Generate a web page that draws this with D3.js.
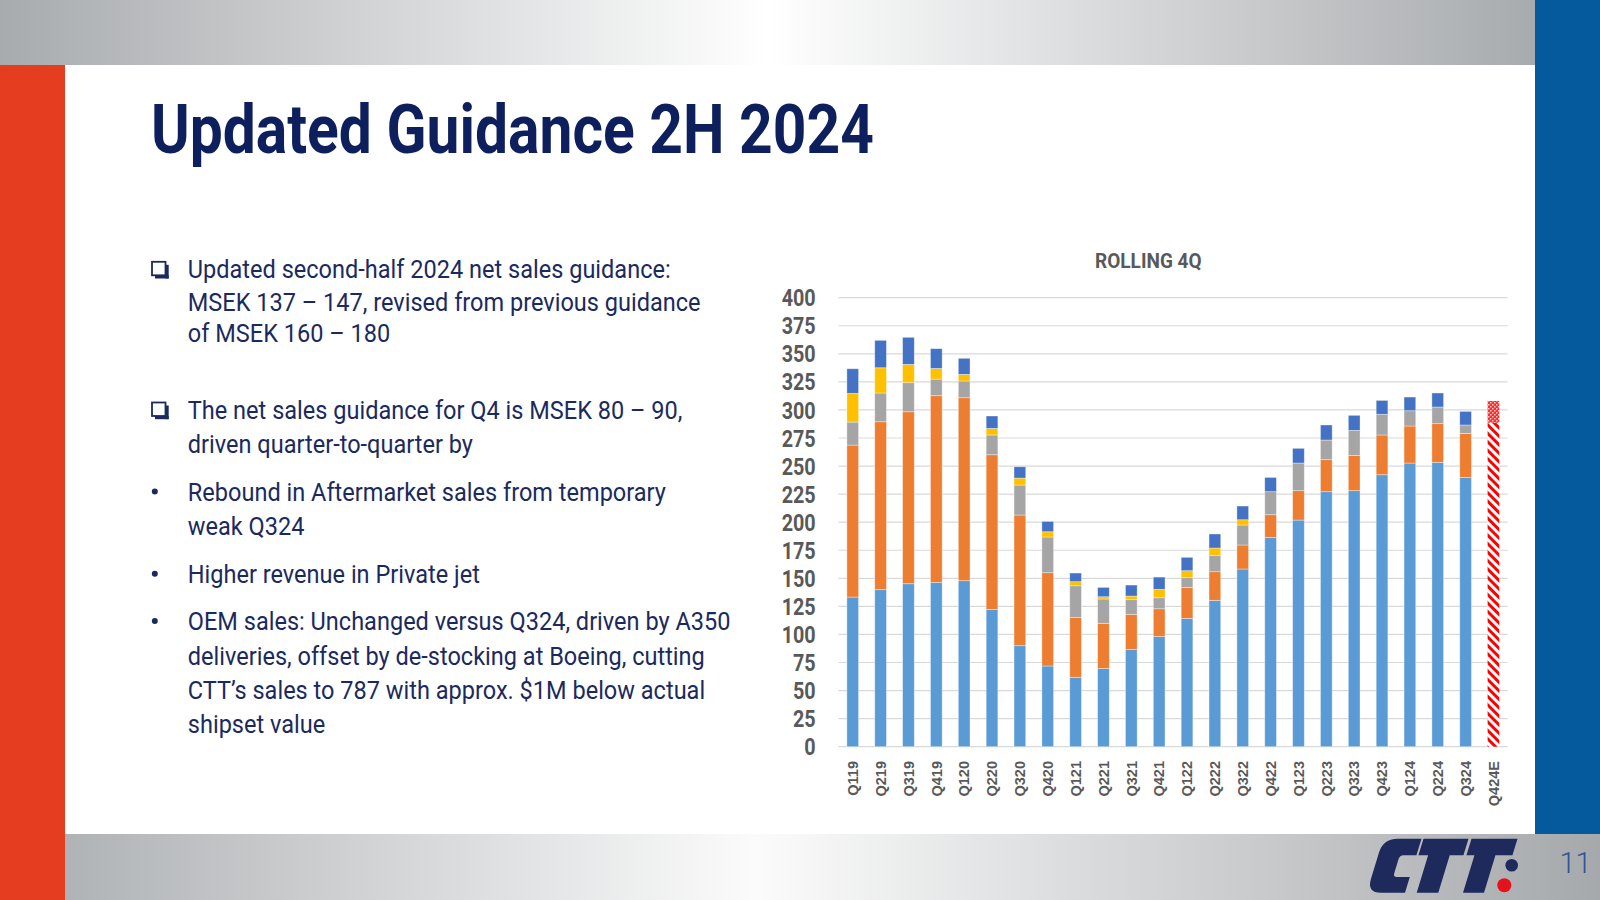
<!DOCTYPE html>
<html>
<head>
<meta charset="utf-8">
<script src="https://cdn.jsdelivr.net/npm/d3@7"></script>
<style>
  html, body { margin: 0; padding: 0; background: #fff; }
  svg { display: block; }
</style>
</head>
<body>
<svg id="slide" width="1600" height="900"></svg>
<script>
// ---------------- DATA ----------------
const categories = ["Q119","Q219","Q319","Q419","Q120","Q220","Q320","Q420","Q121","Q221","Q321","Q421","Q122","Q222","Q322","Q422","Q123","Q223","Q323","Q423","Q124","Q224","Q324"];
const estimateCategory = "Q424E";
const seriesLightBlue = [133.3,139.9,145.2,146.4,147.9,122.3,90.0,71.9,61.8,69.8,86.7,98.3,114.3,130.4,158.3,186.5,201.9,227.2,228.1,242.3,252.7,253.3,239.9];
const seriesOrange    = [135.4,149.6,153.2,166.3,163.0,137.8,116.4,83.1,53.4,40.1,31.2,24.6,27.6,25.5,21.4,20.2,26.2,28.5,31.4,35.4,33.0,34.5,39.2];
const seriesGray      = [20.5,25.6,25.9,14.8,14.9,17.6,26.7,31.8,28.2,21.7,13.1,9.8,8.7,14.6,17.8,20.5,24.6,17.5,22.3,18.4,13.6,14.8,7.5];
const seriesYellow    = [25.6,22.5,16.3,9.5,5.9,5.9,6.2,4.7,3.6,2.0,3.2,7.5,6.2,6.5,4.7,0,0,0,0,0,0,0,0];
const seriesDarkBlue  = [21.9,24.4,24.1,17.6,14.3,11.0,10.1,9.2,7.7,8.3,9.8,10.9,11.9,12.5,12.2,12.7,13.1,13.4,13.4,12.4,12.2,12.5,12.1];
const estimateBase = 288.6;   // hatched part
const estimateTop  = 308.0;   // top of checkered range
const yTicks = [0,25,50,75,100,125,150,175,200,225,250,275,300,325,350,375,400];
const seriesColors = ["#5b9bd5","#ed7d31","#a5a5a5","#ffc000","#4472c4"];

const titleText = "Updated Guidance 2H 2024";
const chartTitle = "ROLLING 4Q";
const pageNumber = "11";
const bodyLines = [
  {t:"Updated second-half 2024 net sales guidance:", y:278.3, mark:"box"},
  {t:"MSEK 137 \u2013 147, revised from previous guidance", y:310.5},
  {t:"of MSEK 160 \u2013 180", y:342.0},
  {t:"The net sales guidance for Q4 is MSEK 80 \u2013 90,", y:419.0, mark:"box"},
  {t:"driven quarter-to-quarter by", y:453.0},
  {t:"Rebound in Aftermarket sales from temporary", y:500.5, mark:"dot"},
  {t:"weak Q324", y:535.0},
  {t:"Higher revenue in Private jet", y:582.7, mark:"dot"},
  {t:"OEM sales: Unchanged versus Q324, driven by A350", y:630.0, mark:"dot"},
  {t:"deliveries, offset by de-stocking at Boeing, cutting", y:665.0},
  {t:"CTT\u2019s sales to 787 with approx. $1M below actual", y:699.0},
  {t:"shipset value", y:732.5}
];

// ---------------- DRAW ----------------
const svg = d3.select("#slide");
const defs = svg.append("defs");

// gradients
const gTop = defs.append("linearGradient").attr("id","gTop").attr("x1","0").attr("x2","1").attr("y1","0").attr("y2","0");
gTop.append("stop").attr("offset","0").attr("stop-color","#a8abae");
gTop.append("stop").attr("offset","0.5").attr("stop-color","#ffffff");
gTop.append("stop").attr("offset","1").attr("stop-color","#a8abae");
const gBot = defs.append("linearGradient").attr("id","gBot").attr("x1","0").attr("x2","1").attr("y1","0").attr("y2","0");
gBot.append("stop").attr("offset","0").attr("stop-color","#b0b3b6");
gBot.append("stop").attr("offset","0.45").attr("stop-color","#fbfbfb");
gBot.append("stop").attr("offset","1").attr("stop-color","#a6a9ac");

// patterns
const hatch = defs.append("pattern").attr("id","hatch").attr("patternUnits","userSpaceOnUse")
  .attr("width",6).attr("height",6).attr("patternTransform","rotate(-45)");
hatch.append("rect").attr("width",6).attr("height",6).attr("fill","#fff");
hatch.append("rect").attr("width",3).attr("height",6).attr("fill","#ff0000");
const checker = defs.append("pattern").attr("id","checker").attr("patternUnits","userSpaceOnUse")
  .attr("width",4).attr("height",4);
checker.append("rect").attr("width",4).attr("height",4).attr("fill","#ff2a2a");
checker.append("rect").attr("x",0).attr("y",0).attr("width",1.5).attr("height",1.5).attr("fill","#ffd0d0");
checker.append("rect").attr("x",2).attr("y",2).attr("width",1.5).attr("height",1.5).attr("fill","#ffd0d0");

// frame
svg.append("rect").attr("x",0).attr("y",0).attr("width",1535).attr("height",65).attr("fill","url(#gTop)");
svg.append("rect").attr("x",65).attr("y",834).attr("width",1535).attr("height",66).attr("fill","url(#gBot)");
svg.append("rect").attr("x",0).attr("y",65).attr("width",65).attr("height",835).attr("fill","#e53d1f");
svg.append("rect").attr("x",1535).attr("y",0).attr("width",65).attr("height",834).attr("fill","#045a9c");

// helper: fit text to width with horizontal scale
function fitScale(textSel, target) {
  const w = textSel.node().getComputedTextLength();
  return target / w;
}

// title
const title = svg.append("text").text(titleText)
  .attr("font-family","Roboto").attr("font-weight",700).attr("font-size",68.5)
  .attr("fill","#0e1f5d");
const ts = fitScale(title, 723);
title.attr("transform",`translate(151,152.7) scale(${ts},1)`);

// body text
const body = svg.append("g");
const lines = body.selectAll("text").data(bodyLines).enter().append("text")
  .text(d=>d.t)
  .attr("font-family","Roboto").attr("font-weight",400).attr("font-size",25.5)
  .attr("fill","#1b2a5e");
const refScale = fitScale(d3.select(lines.nodes()[1]), 513);
lines.attr("transform",d=>`translate(187.8,${d.y}) scale(${refScale},1)`);
bodyLines.forEach(d=>{
  if (d.mark==="box") {
    const y0 = d.y - 16.5;
    body.append("rect").attr("x",152).attr("y",y0).attr("width",13.5).attr("height",13.5)
      .attr("fill","none").attr("stroke","#1b2a5e").attr("stroke-width",1.8);
    body.append("rect").attr("x",165.5).attr("y",y0+3).attr("width",3.2).attr("height",13.7).attr("fill","#1b2a5e");
    body.append("rect").attr("x",155).attr("y",y0+13.5).attr("width",13.7).attr("height",3.2).attr("fill","#1b2a5e");
  } else if (d.mark==="dot") {
    body.append("circle").attr("cx",154.8).attr("cy",d.y-9).attr("r",3).attr("fill","#1b2a5e");
  }
});

// ---------------- CHART ----------------
const allCats = categories.concat([estimateCategory]);
const x = d3.scaleBand().domain(allCats).range([838.8,1507.4]).paddingInner(0.58).paddingOuter(0.29);
const y = d3.scaleLinear().domain([0,400]).range([746.7,297.7]);

// gridlines
svg.append("g").selectAll("line").data(yTicks).enter().append("line")
  .attr("x1",838.5).attr("x2",1507.5)
  .attr("y1",d=>y(d)).attr("y2",d=>y(d))
  .attr("stroke","#d9d9d9").attr("stroke-width",1.2);

// y labels
const yl = svg.append("g").selectAll("text").data(yTicks).enter().append("text")
  .text(d=>d)
  .attr("font-family","Roboto").attr("font-weight",700).attr("font-size",24.5)
  .attr("fill","#595959").attr("text-anchor","end").attr("dy","0.35em");
const yScaleX = fitScale(d3.select(yl.nodes()[yl.nodes().length-1]), 34);
yl.attr("transform",d=>`translate(815.7,${y(d)}) scale(${yScaleX},1)`);

// stacked bars
const rows = categories.map((c,i)=>({cat:c, s0:seriesLightBlue[i], s1:seriesOrange[i], s2:seriesGray[i], s3:seriesYellow[i], s4:seriesDarkBlue[i]}));
const stack = d3.stack().keys(["s0","s1","s2","s3","s4"])(rows);
const bars = svg.append("g");
stack.forEach((layer,li)=>{
  bars.append("g").selectAll("rect").data(layer.filter(d=>d[1]-d[0]>0)).enter().append("rect")
    .attr("x",d=>x(d.data.cat)).attr("width",x.bandwidth())
    .attr("y",d=>y(d[1])).attr("height",d=>y(d[0])-y(d[1]))
    .attr("fill",seriesColors[li])
    .attr("stroke","#ffffff").attr("stroke-opacity",0.45).attr("stroke-width",0.8);
});
// estimate bar
bars.append("rect").attr("x",x(estimateCategory)).attr("width",x.bandwidth())
  .attr("y",y(estimateBase)).attr("height",y(0)-y(estimateBase)).attr("fill","url(#hatch)");
bars.append("rect").attr("x",x(estimateCategory)).attr("width",x.bandwidth())
  .attr("y",y(estimateTop)).attr("height",y(estimateBase)-y(estimateTop)).attr("fill","url(#checker)");

// x labels
svg.append("g").selectAll("text").data(allCats).enter().append("text")
  .text(d=>d)
  .attr("font-family","Liberation Sans, Arial").attr("font-weight",700).attr("font-size",14.5)
  .attr("fill","#595959").attr("text-anchor","end").attr("dy","0.36em")
  .attr("transform",d=>`translate(${x(d)+x.bandwidth()/2},761) rotate(-90)`);

// chart title
const ct = svg.append("text").text(chartTitle)
  .attr("font-family","Roboto").attr("font-weight",700).attr("font-size",20)
  .attr("fill","#595959");
const cts = fitScale(ct, 106.7);
ct.attr("transform",`translate(1095,267.7) scale(${cts},1)`);

// ---------------- LOGO (graphic) & PAGE NUMBER ----------------
const logo = svg.append("g").attr("transform","translate(0,892.7) skewX(-17)").attr("fill","#1f2a5c");
// C
logo.append("path").attr("d",
  "M1405,-54 L1381,-54 Q1366.7,-54 1366.7,-40 L1366.7,-14 Q1366.7,0 1381,0 L1405,0 L1405,-15.7 " +
  "L1392,-15.7 Q1388.3,-15.7 1388.3,-19.5 L1388.3,-33.6 Q1388.3,-37.4 1392,-37.4 L1405,-37.4 Z");
// T 1
logo.append("path").attr("d","M1407,-54 L1452,-54 L1452,-37.4 L1438.3,-37.4 L1438.3,0 L1416.7,0 L1416.7,-37.4 L1407,-37.4 Z");
// T 2
logo.append("path").attr("d","M1455,-54 L1501,-54 L1501,-37.4 L1484,-37.4 L1484,0 L1463,0 L1463,-37.4 L1455,-37.4 Z");
svg.append("circle").attr("cx",1511.7).attr("cy",865.3).attr("r",6.3).attr("fill","#1f2a5c");
svg.append("circle").attr("cx",1504.3).attr("cy",885.3).attr("r",7).attr("fill","#e3121b");

svg.append("text").text(pageNumber).attr("x",1559.5).attr("y",873)
  .attr("font-family","Roboto").attr("font-weight",300).attr("font-size",29)
  .attr("fill","#2e5596");
</script>
</body>
</html>
